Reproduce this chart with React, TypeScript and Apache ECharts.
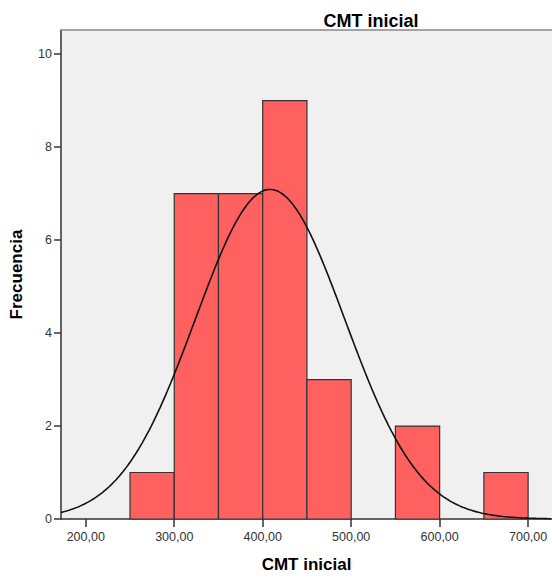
import React, { useEffect, useRef } from "react";
import * as echarts from "echarts";

const binStarts = [250, 300, 350, 400, 450, 500, 550, 600, 650];
const binWidth = 50;
const counts = [1, 7, 7, 9, 3, 0, 2, 0, 1];
const xTicks = [200, 300, 400, 500, 600, 700];
const yTicks = [0, 2, 4, 6, 8, 10];
const fitMean = 408.3;
const fitSd = 84.4;
const xMin = 172;
const xMax = 727;
const yMax = 10.52;

const fmt = (v: number) => v.toFixed(2).replace(".", ",");

export default function App() {
  const ref = useRef<HTMLDivElement>(null);
  useEffect(() => {
    if (!ref.current) return;
    const chart = echarts.init(ref.current, undefined, { renderer: "svg" });
    const n = counts.reduce((a, b) => a + b, 0);
    const curve: number[][] = [];
    for (let x = xMin; x <= xMax; x += 2) {
      const z = (x - fitMean) / fitSd;
      curve.push([x, (n * binWidth * Math.exp(-0.5 * z * z)) / (fitSd * Math.sqrt(2 * Math.PI))]);
    }
    const bars = binStarts
      .map((s, i) => [s, s + binWidth, counts[i]])
      .filter((d) => d[2] > 0);
    const font = "'Liberation Sans', Arial, sans-serif";
    chart.setOption({
      animation: false,
      title: {
        text: "CMT inicial",
        left: 366,
        top: 7,
        textAlign: "center",
        textStyle: { fontFamily: font, fontSize: 18, fontWeight: "bold", color: "#000" },
      },
      grid: {
        left: 61,
        top: 30,
        width: 491,
        height: 491,
        show: true,
        backgroundColor: "#F0F0F0",
        borderWidth: 0,
      },
      xAxis: [
        {
          type: "value",
          min: xMin,
          max: xMax,
          name: "CMT inicial",
          nameLocation: "middle",
          nameGap: 37,
          nameTextStyle: { fontFamily: font, fontSize: 17, fontWeight: "bold", color: "#000" },
          axisLine: { show: true, lineStyle: { color: "#333", width: 1.5 } },
          axisTick: { show: true, length: 8, customValues: xTicks, lineStyle: { color: "#333", width: 1.5 } },
          axisLabel: {
            customValues: xTicks,
            formatter: (v: number) => fmt(v),
            fontFamily: font,
            fontSize: 12.5,
            color: "#333",
            margin: 11,
          },
          splitLine: { show: false },
        },
        {
          type: "value",
          position: "top",
          min: xMin,
          max: xMax,
          axisLine: { show: true, lineStyle: { color: "#888", width: 1.5 } },
          axisTick: { show: false },
          axisLabel: { show: false },
          splitLine: { show: false },
        },
      ],
      yAxis: {
        type: "value",
        min: 0,
        max: yMax,
        name: "Frecuencia",
        nameLocation: "middle",
        nameGap: 36,
        nameTextStyle: { fontFamily: font, fontSize: 17, fontWeight: "bold", color: "#000" },
        axisLine: { show: true, lineStyle: { color: "#333", width: 1.5 } },
        axisTick: { show: true, length: 7, customValues: yTicks, lineStyle: { color: "#333", width: 1.5 } },
        axisLabel: {
          customValues: yTicks,
          fontFamily: font,
          fontSize: 12.5,
          color: "#333",
          margin: 9,
        },
        splitLine: { show: false },
      },
      series: [
        {
          type: "custom",
          data: bars,
          renderItem: (params: any, api: any) => {
            const p1 = api.coord([api.value(0), api.value(2)]);
            const p2 = api.coord([api.value(1), 0]);
            return {
              type: "rect",
              shape: { x: p1[0], y: p1[1], width: p2[0] - p1[0], height: p2[1] - p1[1] },
              style: { fill: "#FF6060", stroke: "#333", lineWidth: 1.2 },
            };
          },
          encode: { x: [0, 1], y: 2 },
          z: 2,
        },
        {
          type: "line",
          data: curve,
          showSymbol: false,
          smooth: false,
          lineStyle: { color: "#111", width: 1.6 },
          z: 3,
        },
      ],
    });
    return () => chart.dispose();
  }, []);
  return (
    <div
      ref={ref}
      style={{ position: "absolute", left: 0, top: 0, width: 552, height: 578, overflow: "hidden" }}
    />
  );
}
